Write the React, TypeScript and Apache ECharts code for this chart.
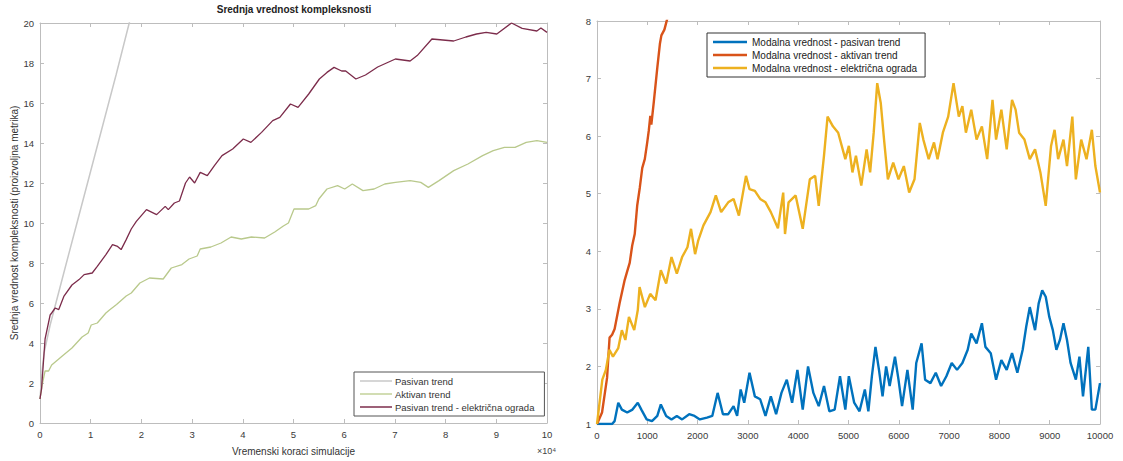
import React, { useEffect, useRef } from "react";
import * as echarts from "echarts";

// ---------- Left chart: mean complexity (x in units of 10^4 steps) ----------
const leftTitle = "Srednja vrednost kompleksnosti";
const leftXName = "Vremenski koraci simulacije";
const leftYName = "Srednja vrednost kompleksnosti (proizvoljna metrika)";
const leftNames = ["Pasivan trend", "Aktivan trend", "Pasivan trend - električna ograda"];

const meanPassive: [number, number][] = [
  [0, 1.2], [0.04, 2.6], [0.08, 3.5], [0.2, 4.9], [0.5, 7.8], [0.75, 10.2],
  [1.0, 12.6], [1.25, 15.0], [1.5, 17.4], [1.76, 20.0], [1.9, 21.4],
];

const meanActive: [number, number][] = [
  [0, 1.2], [0.05, 2.0], [0.1, 2.6], [0.17, 2.6], [0.23, 2.9], [0.37, 3.2], [0.44, 3.35],
  [0.63, 3.75], [0.83, 4.3], [0.95, 4.5], [1.01, 4.9], [1.13, 5.0], [1.3, 5.5], [1.37, 5.65],
  [1.51, 5.92], [1.7, 6.35], [1.8, 6.5], [1.97, 7.0], [2.16, 7.25], [2.43, 7.2], [2.59, 7.75],
  [2.8, 7.92], [2.94, 8.2], [3.1, 8.35], [3.16, 8.7], [3.37, 8.8], [3.57, 9.0], [3.77, 9.3],
  [3.97, 9.2], [4.17, 9.3], [4.43, 9.25], [4.63, 9.55], [4.8, 9.85], [4.9, 10.0], [5.01, 10.7],
  [5.3, 10.7], [5.44, 10.87], [5.5, 11.2], [5.66, 11.7], [5.87, 11.87], [6.01, 11.7],
  [6.16, 11.95], [6.37, 11.62], [6.59, 11.7], [6.8, 11.95], [7.01, 12.03], [7.3, 12.12],
  [7.51, 12.03], [7.66, 11.78], [7.87, 12.12], [8.16, 12.62], [8.44, 12.95], [8.73, 13.37],
  [8.94, 13.62], [9.16, 13.78], [9.37, 13.78], [9.59, 14.03], [9.8, 14.12], [10, 14.03],
];

const meanFence: [number, number][] = [
  [0, 1.2], [0.03, 1.7], [0.1, 4.2], [0.2, 5.4], [0.23, 5.5], [0.3, 5.75], [0.37, 5.67],
  [0.47, 6.33], [0.63, 6.9], [0.77, 7.17], [0.87, 7.42], [1.03, 7.5], [1.13, 7.83], [1.3, 8.42],
  [1.43, 8.92], [1.53, 8.83], [1.6, 8.67], [1.7, 9.17], [1.8, 9.7], [1.9, 10.08], [2.1, 10.67],
  [2.3, 10.42], [2.47, 10.83], [2.53, 10.67], [2.65, 11.0], [2.75, 11.1], [2.87, 12.0],
  [2.95, 12.3], [3.05, 12.0], [3.16, 12.53], [3.3, 12.37], [3.44, 12.87], [3.59, 13.37],
  [3.8, 13.7], [4.01, 14.2], [4.16, 14.03], [4.37, 14.53], [4.59, 15.12], [4.73, 15.28],
  [4.94, 15.95], [5.09, 15.78], [5.3, 16.45], [5.51, 17.2], [5.66, 17.53], [5.8, 17.78],
  [5.95, 17.6], [6.03, 17.6], [6.23, 17.2], [6.42, 17.4], [6.66, 17.8], [7.01, 18.2],
  [7.3, 18.1], [7.44, 18.37], [7.73, 19.2], [8.16, 19.1], [8.4, 19.3], [8.61, 19.45],
  [8.8, 19.53], [9.01, 19.45], [9.3, 20.0], [9.51, 19.73], [9.8, 19.6], [9.88, 19.75], [10, 19.53],
];

// ---------- Right chart: modal value (x in steps) ----------
const rightNames = [
  "Modalna vrednost - pasivan trend",
  "Modalna vrednost - aktivan trend",
  "Modalna vrednost - električna ograda",
];

const modePassive: [number, number][] = [
  [0, 1], [300, 1], [350, 1.05], [423, 1.37], [494, 1.25], [600, 1.2], [705, 1.25], [811, 1.37],
  [882, 1.25], [987, 1.08], [1093, 1.05], [1199, 1.14], [1269, 1.34], [1375, 1.14], [1481, 1.08],
  [1587, 1.14], [1692, 1.08], [1833, 1.17], [1939, 1.14], [2045, 1.08], [2186, 1.11], [2292, 1.14],
  [2398, 1.54], [2504, 1.17], [2609, 1.17], [2715, 1.31], [2786, 1.14], [2856, 1.6], [2927, 1.37],
  [3032, 1.89], [3138, 1.48], [3244, 1.43], [3350, 1.14], [3456, 1.48], [3561, 1.17], [3667, 1.54],
  [3773, 1.77], [3879, 1.37], [3984, 1.94], [4090, 1.25], [4196, 2.0], [4302, 1.54], [4408, 1.31],
  [4513, 1.66], [4619, 1.22], [4725, 1.25], [4831, 1.83], [4937, 1.25], [5007, 1.83], [5113, 1.37],
  [5219, 1.22], [5325, 1.6], [5395, 1.22], [5465, 1.83], [5536, 2.34], [5606, 1.94], [5677, 1.48],
  [5748, 2.0], [5818, 1.66], [5924, 2.17], [5994, 1.77], [6065, 1.31], [6171, 1.94], [6276, 1.25],
  [6347, 2.06], [6453, 2.4], [6523, 1.77], [6629, 1.71], [6735, 1.89], [6841, 1.66], [6946, 1.83],
  [7052, 2.06], [7158, 1.94], [7264, 2.06], [7370, 2.29], [7440, 2.57], [7546, 2.4], [7652, 2.75],
  [7722, 2.34], [7828, 2.23], [7934, 1.77], [8039, 2.11], [8145, 1.94], [8251, 2.23], [8357, 1.89],
  [8463, 2.29], [8533, 2.69], [8604, 3.03], [8709, 2.63], [8780, 3.09], [8851, 3.32], [8921, 3.21],
  [8992, 2.86], [9062, 2.63], [9133, 2.29], [9203, 2.46], [9274, 2.75], [9344, 2.46], [9415, 2.06],
  [9520, 1.77], [9591, 2.17], [9662, 1.48], [9767, 2.34], [9838, 1.25], [9908, 1.25], [10000, 1.71],
];

const modeActive: [number, number][] = [
  [0, 1], [100, 1.2], [200, 1.8], [250, 2.5], [300, 2.55], [350, 2.65], [450, 3.1], [550, 3.5],
  [600, 3.65], [650, 3.8], [700, 4.1], [750, 4.3], [800, 4.8], [850, 5.1], [900, 5.45], [950, 5.6],
  [1000, 5.9], [1030, 6.1], [1060, 6.35], [1080, 6.2], [1130, 6.6], [1200, 7.2], [1250, 7.6],
  [1280, 7.75], [1340, 7.85], [1400, 8.05],
];

const modeFence: [number, number][] = [
  [0, 1.0], [106, 1.77], [176, 1.94], [247, 2.29], [317, 2.17], [423, 2.32], [494, 2.63],
  [564, 2.46], [635, 2.86], [740, 2.63], [811, 2.98], [846, 3.38], [952, 3.03], [1058, 3.26],
  [1164, 3.15], [1269, 3.67], [1375, 3.44], [1481, 3.9], [1587, 3.61], [1692, 3.9], [1798, 4.07],
  [1869, 4.39], [1950, 3.95], [2010, 4.18], [2116, 4.45], [2257, 4.68], [2362, 4.97], [2468, 4.68],
  [2609, 4.85], [2715, 4.91], [2821, 4.62], [2962, 5.31], [3032, 5.08], [3138, 5.05], [3244, 4.91],
  [3350, 4.85], [3456, 4.68], [3597, 4.4], [3702, 5.02], [3738, 4.3], [3808, 4.85], [3949, 4.97],
  [4090, 4.39], [4231, 5.25], [4337, 5.31], [4408, 4.79], [4513, 5.66], [4584, 6.34], [4690, 6.17],
  [4795, 6.06], [4937, 5.6], [5007, 5.83], [5078, 5.37], [5148, 5.66], [5254, 5.14], [5360, 5.77],
  [5430, 5.37], [5501, 6.06], [5571, 6.92], [5642, 6.57], [5712, 5.89], [5783, 5.25], [5889, 5.54],
  [5994, 5.25], [6100, 5.48], [6206, 5.02], [6312, 5.25], [6417, 6.23], [6488, 5.94], [6594, 5.6],
  [6700, 5.89], [6770, 5.6], [6876, 6.06], [6982, 6.34], [7088, 6.92], [7193, 6.34], [7264, 6.52],
  [7334, 6.06], [7440, 6.46], [7546, 5.94], [7652, 6.17], [7757, 5.6], [7863, 6.63], [7934, 5.94],
  [8039, 6.46], [8145, 5.77], [8251, 6.63], [8322, 6.46], [8392, 6.06], [8498, 5.94], [8604, 5.6],
  [8709, 5.77], [8815, 5.37], [8921, 4.79], [9027, 5.83], [9097, 6.11], [9168, 5.6], [9274, 5.94],
  [9344, 5.48], [9450, 6.34], [9520, 5.25], [9626, 5.94], [9732, 5.6], [9838, 6.11], [9908, 5.48],
  [10000, 5.02],
];

const FONT = "'Liberation Sans', Arial, Helvetica, sans-serif";
const AXIS_COLOR = "#bdbdbd";
const LABEL_COLOR = "#3a3a3a";

function mainAxis(gridIndex: number, min: number, max: number, interval: number, extra: any) {
  return {
    type: "value",
    gridIndex,
    min,
    max,
    interval,
    axisLine: { show: true, onZero: false, lineStyle: { color: AXIS_COLOR, width: 1 } },
    axisTick: { show: true, inside: true, length: 4, lineStyle: { color: AXIS_COLOR } },
    axisLabel: {
      color: LABEL_COLOR,
      fontSize: 9.5,
      fontFamily: FONT,
      margin: 6,
      formatter: (v: number) => String(v),
    },
    splitLine: { show: false },
    ...extra,
  };
}

function mirrorAxis(gridIndex: number, min: number, max: number, interval: number, position: string) {
  return {
    type: "value",
    gridIndex,
    min,
    max,
    interval,
    position,
    axisLine: { show: true, onZero: false, lineStyle: { color: AXIS_COLOR, width: 1 } },
    axisTick: { show: true, inside: true, length: 4, lineStyle: { color: AXIS_COLOR } },
    axisLabel: { show: false },
    splitLine: { show: false },
  };
}

export default function App() {
  const ref = useRef<HTMLDivElement>(null);

  useEffect(() => {
    if (!ref.current) return;
    const chart = echarts.init(ref.current, null, { renderer: "svg" });
    const nameStyle = { color: "#333", fontSize: 10, fontFamily: FONT };

    chart.setOption({
      animation: false,
      backgroundColor: "#ffffff",
      grid: [
        { left: 40, top: 23, width: 507, height: 401 },
        { left: 597, top: 21, width: 503, height: 403 },
      ],
      xAxis: [
        mainAxis(0, 0, 10, 1, {
          position: "bottom",
          name: leftXName,
          nameLocation: "middle",
          nameGap: 23,
          nameTextStyle: nameStyle,
        }),
        mirrorAxis(0, 0, 10, 1, "top"),
        mainAxis(1, 0, 10000, 1000, { position: "bottom" }),
        mirrorAxis(1, 0, 10000, 1000, "top"),
      ],
      yAxis: [
        mainAxis(0, 0, 20, 2, {
          position: "left",
          name: leftYName,
          nameLocation: "middle",
          nameGap: 16,
          nameTextStyle: nameStyle,
        }),
        mirrorAxis(0, 0, 20, 2, "right"),
        mainAxis(1, 1, 8, 1, { position: "left" }),
        mirrorAxis(1, 1, 8, 1, "right"),
      ],
      legend: [
        {
          data: leftNames,
          orient: "vertical",
          left: 354,
          top: 372,
          icon: "rect",
          itemWidth: 32,
          itemHeight: 1.5,
          itemGap: 3,
          padding: [4, 10, 4, 6],
          borderColor: "#555",
          borderWidth: 1,
          backgroundColor: "#fff",
          textStyle: { fontSize: 9.5, color: "#333", fontFamily: FONT, padding: [0, 0, 0, -2] },
        },
        {
          data: rightNames,
          orient: "vertical",
          left: 707,
          top: 33,
          icon: "rect",
          itemWidth: 34,
          itemHeight: 2.5,
          itemGap: 3,
          padding: [4, 8, 4, 6],
          borderColor: "#333",
          borderWidth: 1,
          backgroundColor: "#fff",
          textStyle: { fontSize: 10, color: "#222", fontFamily: FONT },
        },
      ],
      graphic: [
        {
          type: "text",
          x: 294,
          y: 4,
          style: { text: leftTitle, font: `bold 10px ${FONT}`, fill: "#222", textAlign: "center" },
        },
        {
          type: "text",
          x: 537,
          y: 446,
          style: { text: "×10⁴", font: `9px ${FONT}`, fill: "#444" },
        },
      ],
      series: [
        {
          name: leftNames[0], type: "line", xAxisIndex: 0, yAxisIndex: 0, data: meanPassive,
          showSymbol: false, symbol: "none", color: "#c8c8c8", lineStyle: { width: 1.5, color: "#c8c8c8" },
        },
        {
          name: leftNames[1], type: "line", xAxisIndex: 0, yAxisIndex: 0, data: meanActive,
          showSymbol: false, symbol: "none", color: "#c3d29a", lineStyle: { width: 1.3, color: "#b9c98c" },
        },
        {
          name: leftNames[2], type: "line", xAxisIndex: 0, yAxisIndex: 0, data: meanFence,
          showSymbol: false, symbol: "none", color: "#7c2c4b", lineStyle: { width: 1.3, color: "#7c2c4b" },
        },
        {
          name: rightNames[0], type: "line", xAxisIndex: 2, yAxisIndex: 2, data: modePassive,
          showSymbol: false, symbol: "none", color: "#0072BD", lineStyle: { width: 2.4, color: "#0072BD" },
        },
        {
          name: rightNames[1], type: "line", xAxisIndex: 2, yAxisIndex: 2, data: modeActive,
          showSymbol: false, symbol: "none", color: "#D95319", lineStyle: { width: 2.4, color: "#D95319" },
        },
        {
          name: rightNames[2], type: "line", xAxisIndex: 2, yAxisIndex: 2, data: modeFence,
          showSymbol: false, symbol: "none", color: "#EDB120", lineStyle: { width: 2.4, color: "#EDB120" },
        },
      ],
    });

    return () => chart.dispose();
  }, []);

  return (
    <div
      ref={ref}
      style={{ position: "fixed", left: 0, top: 0, width: 1123, height: 461, background: "#fff" }}
    />
  );
}
